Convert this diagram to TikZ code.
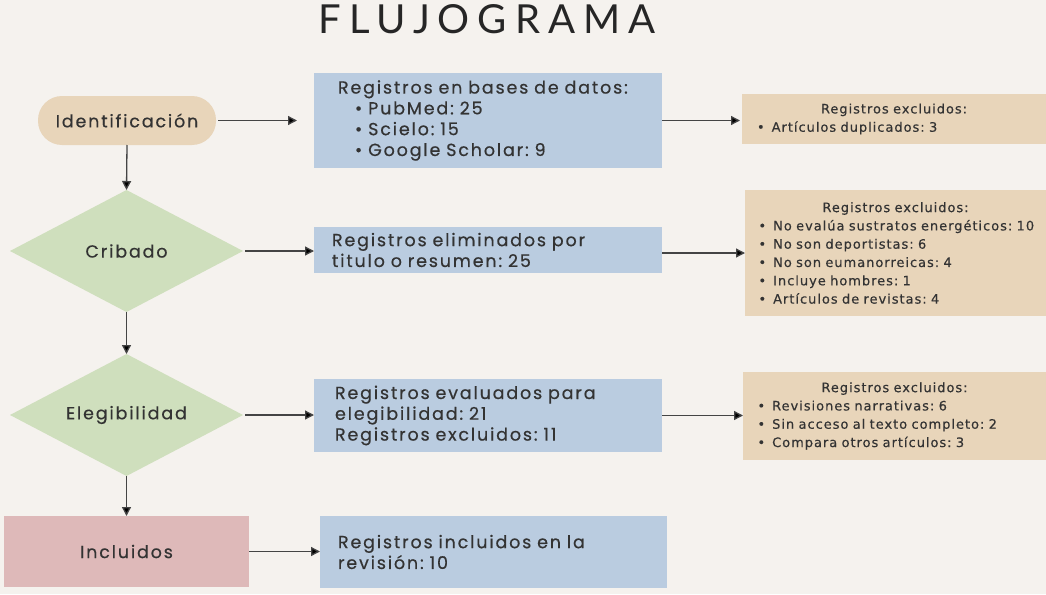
\documentclass[tikz,border=0pt]{standalone}
\usepackage{fontspec}
\setmainfont{Poppins}
\newfontfamily\boxfont[LetterSpace=10.5,FakeBold=0.5]{Poppins}
\newfontfamily\smallfont[LetterSpace=7.5,FakeBold=0.4]{DejaVu Sans}
\newfontfamily\titlefont[LetterSpace=20]{Lato}
\frenchspacing
\usetikzlibrary{shapes.geometric,arrows.meta}
\definecolor{bg}{HTML}{F5F2EE}
\definecolor{tanbox}{HTML}{E8D5BA}
\definecolor{boxblue}{HTML}{BACCE0}
\definecolor{greend}{HTML}{CFDFBD}
\definecolor{pinkbox}{HTML}{DEB9B9}
\definecolor{txt}{HTML}{333333}
\definecolor{linec}{HTML}{444444}
\begin{document}
\begin{tikzpicture}[x=1pt,y=-1pt,
  conn/.style={draw=linec, line width=1.3pt, -{Triangle[length=9pt,width=9pt,fill=black]}},
  bluebox/.style={fill=boxblue, inner sep=0pt, outer sep=0pt, align=left, text=txt,
    font=\boxfont\fontsize{17.5}{20.8}\selectfont},
  tanx/.style={fill=tanbox, inner sep=0pt, outer sep=0pt, align=left, text=txt,
    font=\smallfont\fontsize{13}{18.3}\selectfont, text width=290pt},
  greendia/.style={diamond, shape aspect=1.91, fill=greend, inner sep=0pt, outer sep=0pt, text=txt,
    minimum width=233pt, minimum height=122pt, font=\boxfont\fontsize{17.5}{20}\selectfont},
  pill/.style={rectangle, rounded corners=24pt, fill=tanbox, inner sep=0pt, outer sep=0pt,
    minimum width=178pt, minimum height=49pt, text=txt, font=\boxfont\fontsize{17.5}{20}\selectfont},
  pinkrect/.style={rectangle, fill=pinkbox, inner sep=0pt, outer sep=0pt,
    minimum width=245pt, minimum height=71pt, text=txt, font=\boxfont\fontsize{17.5}{20}\selectfont}
]
\fill[bg] (0,0) rectangle (1046,594);
\useasboundingbox (0,0) rectangle (1046,594);

\node[text=black!85, font=\titlefont\fontsize{40}{44}\selectfont] (title) at (487,19) {FLUJOGRAMA};

% left column
\node[pill] (ident) at (127,120.5) {Identificación};
\node[greendia] (crib) at (126.5,251) {Cribado};
\node[greendia] (eleg) at (126.5,415) {Elegibilidad};
\node[pinkrect] (incl) at (126.5,551.5) {Incluidos};

% middle column
\node[bluebox, minimum width=348pt, minimum height=95pt, text width=300pt] (box1) at (488,120.5)
 {\mbox{Registros en bases de datos:}\\
  \mbox{\hspace*{17pt}\textbullet\hspace{6pt}PubMed: 25}\\
  \mbox{\hspace*{17pt}\textbullet\hspace{6pt}Scielo: 15}\\
  \mbox{\hspace*{17pt}\textbullet\hspace{6pt}Google Scholar: 9}};
\node[bluebox, minimum width=348pt, minimum height=46pt, text width=312pt] (box2) at (488,250)
 {\mbox{Registros eliminados por}\\ \mbox{titulo o resumen: 25}};
\node[bluebox, minimum width=348pt, minimum height=73pt, text width=306pt] (box3) at (488,415.5)
 {\mbox{Registros evaluados para}\\ \mbox{elegibilidad: 21}\\ \mbox{Registros excluidos: 11}};
\node[bluebox, minimum width=347pt, minimum height=72pt, text width=311pt] (box4) at (493.5,552)
 {\mbox{Registros incluidos en la}\\ \mbox{revisión: 10}};

% right column
\node[tanx, minimum width=304pt, minimum height=50pt] (ex1) at (894,119)
 {\makebox[290pt]{Registros excluidos:}\\
  \mbox{\hspace*{8pt}\textbullet\hspace{7pt}Artículos duplicados: 3}};
\node[tanx, minimum width=301pt, minimum height=126pt] (ex2) at (895.5,253)
 {\makebox[290pt]{Registros excluidos:}\\
  \mbox{\hspace*{8pt}\textbullet\hspace{7pt}No evalúa sustratos energéticos: 10}\\
  \mbox{\hspace*{8pt}\textbullet\hspace{7pt}No son deportistas: 6}\\
  \mbox{\hspace*{8pt}\textbullet\hspace{7pt}No son eumanorreicas: 4}\\
  \mbox{\hspace*{8pt}\textbullet\hspace{7pt}Incluye hombres: 1}\\
  \mbox{\hspace*{8pt}\textbullet\hspace{7pt}Artículos de revistas: 4}};
\node[tanx, minimum width=303pt, minimum height=88pt] (ex3) at (894.5,416)
 {\makebox[290pt]{Registros excluidos:}\\
  \mbox{\hspace*{8pt}\textbullet\hspace{7pt}Revisiones narrativas: 6}\\
  \mbox{\hspace*{8pt}\textbullet\hspace{7pt}Sin acceso al texto completo: 2}\\
  \mbox{\hspace*{8pt}\textbullet\hspace{7pt}Compara otros artículos: 3}};

% connectors
\draw[conn] (ident.south) -- (crib.north);
\draw[conn] (crib.south) -- (eleg.north);
\draw[conn] (eleg.south) -- (incl.north);
\draw[conn, shorten <=2pt, shorten >=17pt] (ident.east) -- (box1.west);
\draw[conn, shorten <=2pt] (crib.east) -- (box2.west |- crib.east);
\draw[conn, shorten <=2pt] (eleg.east) -- (box3.west |- eleg.east);
\draw[conn] (incl.east) -- (box4.west |- incl.east);
\draw[conn, shorten >=2pt] (box1.east) -- (ex1.west |- box1.east);
\draw[conn] (box2.east |- ex2.west) -- (ex2.west);
\draw[conn] (box3.east) -- (ex3.west |- box3.east);
\end{tikzpicture}
\end{document}
